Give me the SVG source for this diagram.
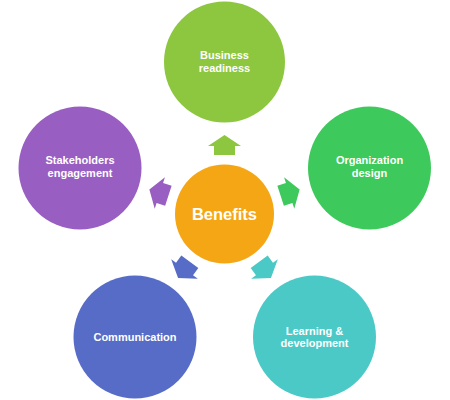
<svg xmlns="http://www.w3.org/2000/svg" width="450" height="400" viewBox="0 0 450 400">
<style>
.lbl{font-family:"Liberation Sans",Arial,sans-serif;font-weight:bold;font-size:11px;fill:#ffffff;text-anchor:middle}
.big{font-family:"Liberation Sans",Arial,sans-serif;font-weight:bold;font-size:16.5px;fill:#ffffff;text-anchor:middle}
</style>
<defs>
<path id="arr" d="M224.5,135 L241,146 L235,146 L235,155 L214,155 L214,146 L208,146 Z"/>
</defs>
<rect width="450" height="400" fill="#ffffff"/>
<g id="connectors">
<use href="#arr" fill="#8DC63F"/>
<use href="#arr" fill="#3DC95B" transform="rotate(72 224.5 214)"/>
<use href="#arr" fill="#4BC9C7" transform="rotate(144 224.5 214)"/>
<use href="#arr" fill="#566CC6" transform="rotate(216 224.5 214)"/>
<use href="#arr" fill="#985EC1" transform="rotate(288 224.5 214)"/>
</g>
<g id="benefits">
<circle cx="224.5" cy="214" r="49.5" fill="#F5A614"/>
<text class="big" x="224.5" y="219.5">Benefits</text>
</g>
<g id="business-readiness">
<circle cx="224.5" cy="62" r="60.5" fill="#8DC63F"/>
<text class="lbl" x="224.5" y="59">Business</text>
<text class="lbl" x="224.5" y="72">readiness</text>
</g>
<g id="organization-design">
<circle cx="369.5" cy="168" r="61.5" fill="#3DC95B"/>
<text class="lbl" x="369.5" y="164">Organization</text>
<text class="lbl" x="369.5" y="177">design</text>
</g>
<g id="learning-development">
<circle cx="314.5" cy="337" r="61.5" fill="#4BC9C7"/>
<text class="lbl" x="314.5" y="334.5">Learning &amp;</text>
<text class="lbl" x="314.5" y="347">development</text>
</g>
<g id="communication">
<circle cx="135" cy="337" r="61.5" fill="#566CC6"/>
<text class="lbl" x="135" y="341">Communication</text>
</g>
<g id="stakeholders-engagement">
<circle cx="80" cy="168" r="61.5" fill="#985EC1"/>
<text class="lbl" x="80" y="164">Stakeholders</text>
<text class="lbl" x="80" y="177">engagement</text>
</g>
</svg>
